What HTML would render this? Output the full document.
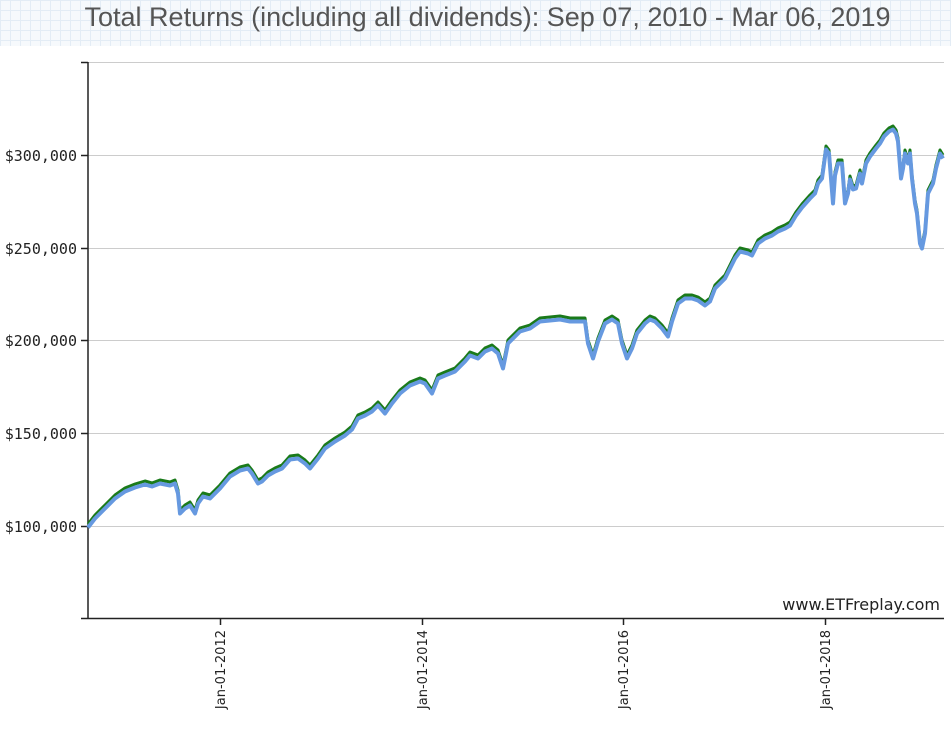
<!DOCTYPE html>
<html><head><style>
html,body{margin:0;padding:0;background:#fff;width:951px;height:730px;overflow:hidden}
.hdr{position:absolute;left:0;top:0;width:951px;height:46px;
background-color:#f6f9fc;
background-image:linear-gradient(#e3ecf5 1px,transparent 1px),linear-gradient(90deg,#e3ecf5 1px,transparent 1px);
background-size:10px 10px;}
.title{position:absolute;left:0;top:2px;width:975px;text-align:center;font:27px "Liberation Sans",sans-serif;color:#555}
svg{position:absolute;left:0;top:0}
</style></head><body>
<div class="hdr"></div>
<div class="title">Total Returns (including all dividends): Sep 07, 2010 - Mar 06, 2019</div>
<svg width="951" height="730" xmlns="http://www.w3.org/2000/svg">
<g stroke="#ccc" stroke-width="1">
<line x1="88" y1="62.5" x2="944" y2="62.5"/>
<line x1="88" y1="155.5" x2="944" y2="155.5"/>
<line x1="88" y1="248.5" x2="944" y2="248.5"/>
<line x1="88" y1="340.5" x2="944" y2="340.5"/>
<line x1="88" y1="433.5" x2="944" y2="433.5"/>
<line x1="88" y1="526.5" x2="944" y2="526.5"/>
</g>
<g stroke="#222" stroke-width="1.5">
<line x1="88" y1="62" x2="88" y2="619"/>
<line x1="88" y1="618.5" x2="944" y2="618.5"/>
<line x1="81" y1="62.5" x2="88" y2="62.5"/>
<line x1="81" y1="155.5" x2="88" y2="155.5"/>
<line x1="81" y1="248.5" x2="88" y2="248.5"/>
<line x1="81" y1="340.5" x2="88" y2="340.5"/>
<line x1="81" y1="433.5" x2="88" y2="433.5"/>
<line x1="81" y1="526.5" x2="88" y2="526.5"/>
<line x1="81" y1="618.5" x2="88" y2="618.5"/>
<line x1="220.5" y1="618" x2="220.5" y2="625"/>
<line x1="422.5" y1="618" x2="422.5" y2="625"/>
<line x1="623.5" y1="618" x2="623.5" y2="625"/>
<line x1="825.5" y1="618" x2="825.5" y2="625"/>
</g>
<g font-family="DejaVu Sans Mono, monospace" font-size="15" fill="#222" text-anchor="end">
<text x="77" y="161">$300,000</text>
<text x="77" y="254">$250,000</text>
<text x="77" y="346">$200,000</text>
<text x="77" y="439">$150,000</text>
<text x="77" y="532">$100,000</text>
</g>
<g font-family="DejaVu Sans, sans-serif" font-size="13" fill="#222" text-anchor="end">
<text transform="translate(225,630) rotate(-90)">Jan-01-2012</text>
<text transform="translate(427,630) rotate(-90)">Jan-01-2014</text>
<text transform="translate(628,630) rotate(-90)">Jan-01-2016</text>
<text transform="translate(830,630) rotate(-90)">Jan-01-2018</text>
</g>
<text x="940" y="610" text-anchor="end" font-family="DejaVu Sans, sans-serif" font-size="16" fill="#222">www.ETFreplay.com</text>
<g fill="none" stroke-linejoin="round">
<polyline stroke="#1a7a1a" stroke-width="3" points="88,524 95,515 105,505 115,495 125,488 135,484 145,481 152,483 160,480 170,482 175,480 178,490 180,510 185,505 190,502 195,510 198,500 203,493 210,495 215,490 220,485 230,473 240,467 248,465 252,470 258,480 262,478 268,472 275,468 282,465 290,456 298,455 305,460 310,465 318,455 325,445 335,438 345,432 352,426 358,415 365,412 372,408 378,402 385,410 392,400 400,390 410,382 420,378 425,380 432,390 438,375 445,372 455,368 465,358 470,352 478,355 485,348 492,345 498,350 503,365 508,340 515,333 520,328 530,325 540,318 550,317 560,316 570,318 578,318 585,318 588,340 593,355 598,338 605,320 612,316 618,320 622,340 627,355 632,345 637,330 645,320 650,316 655,318 662,325 668,333 672,318 678,300 685,295 692,295 698,297 705,302 710,298 715,285 725,275 735,255 740,248 748,250 752,252 758,240 765,235 772,232 778,228 785,225 790,222 796,212 802,204 810,195 815,190 818,180 822,175 826,146 829,150 833,200 835,172 838,160 842,160 845,200 848,190 850,176 853,186 856,185 860,170 862,180 866,160 870,153 876,145 880,140 884,133 889,128 893,126 896,130 898,138 901,175 903,165 905,150 908,160 910,150 912,175 915,200 917,210 920,240 922,245 925,230 928,190 933,180 936,165 940,150 943,155"/>
<polyline transform="translate(0,3.5)" stroke="#6699e0" stroke-width="4" points="88,524 95,515 105,505 115,495 125,488 135,484 145,481 152,483 160,480 170,482 175,480 178,490 180,510 185,505 190,502 195,510 198,500 203,493 210,495 215,490 220,485 230,473 240,467 248,465 252,470 258,480 262,478 268,472 275,468 282,465 290,456 298,455 305,460 310,465 318,455 325,445 335,438 345,432 352,426 358,415 365,412 372,408 378,402 385,410 392,400 400,390 410,382 420,378 425,380 432,390 438,375 445,372 455,368 465,358 470,352 478,355 485,348 492,345 498,350 503,365 508,340 515,333 520,328 530,325 540,318 550,317 560,316 570,318 578,318 585,318 588,340 593,355 598,338 605,320 612,316 618,320 622,340 627,355 632,345 637,330 645,320 650,316 655,318 662,325 668,333 672,318 678,300 685,295 692,295 698,297 705,302 710,298 715,285 725,275 735,255 740,248 748,250 752,252 758,240 765,235 772,232 778,228 785,225 790,222 796,212 802,204 810,195 815,190 818,180 822,175 826,146 829,150 833,200 835,172 838,160 842,160 845,200 848,190 850,176 853,186 856,185 860,170 862,180 866,160 870,153 876,145 880,140 884,133 889,128 893,126 896,130 898,138 901,175 903,165 905,150 908,160 910,150 912,175 915,200 917,210 920,240 922,245 925,230 928,190 933,180 936,165 940,150 943,155"/>
</g>
</svg>
</body></html>
